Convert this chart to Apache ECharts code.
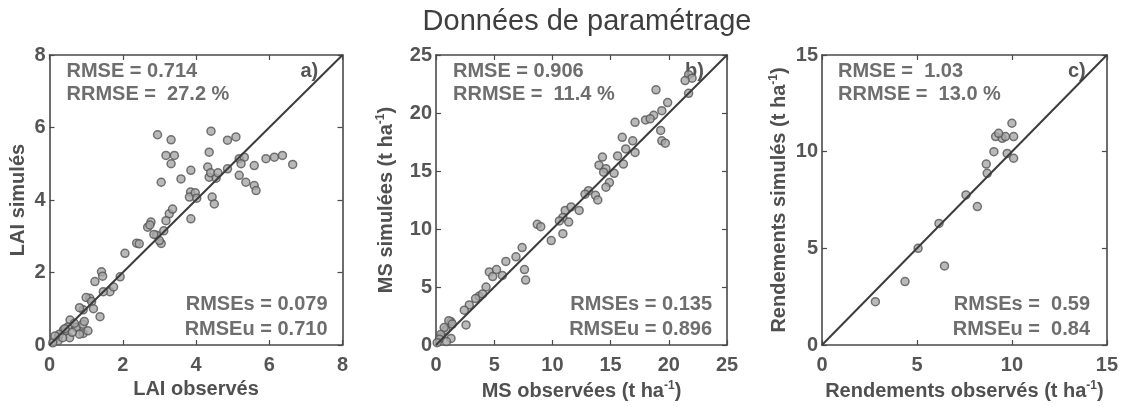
<!DOCTYPE html>
<html>
<head>
<meta charset="utf-8">
<script src="https://cdn.jsdelivr.net/npm/echarts@6/dist/echarts.min.js"></script>
<style>
  html, body { margin: 0; padding: 0; background: #fff; }
  #chart { width: 1121px; height: 407px; }
</style>
</head>
<body>
<div id="chart"></div>
<script>
// ---- Panel a) : LAI ----
const laiObs = [2.95,3.32,3.18,3.41,3.32,3.05,3.59,3.86,3.85,3.82,3.86,4.41,4.36,4.32,4.36,4.40,4.44,4.50,4.86,5.09,4.86,5.18,5.32,5.23,5.18,5.36,5.59,5.64,5.59,5.91,6.14,6.36,6.64,
  3.27,3.18,3.36,2.77,2.68,2.74,2.92,3.05,3.00,2.38,2.45,2.06,1.42,1.45,1.24,1.93,1.65,1.47,1.10,1.00,0.92,1.38,0.82,0.56,0.74,0.92,0.38,0.24,
  0.27,0.45,0.73,0.91,1.05,0.55,0.23,0.09,0.82,0.36,0.50,0.62,0.95,1.15,0.68,1.20,0.42,0.15,1.75,2.85,3.12,4.55,4.60,3.98,4.02];
const laiSim = [5.80,5.66,5.23,5.23,5.00,4.49,4.58,4.82,4.22,4.08,3.48,5.90,5.32,4.91,4.63,4.75,4.08,3.89,5.65,5.74,4.86,5.14,5.18,5.00,4.68,4.49,4.40,4.26,4.95,5.14,5.18,5.23,4.98,
  3.62,3.43,3.75,3.39,3.25,3.31,3.03,2.80,2.88,2.81,2.79,2.53,2.02,1.90,1.75,1.88,1.47,1.47,1.29,1.31,0.97,0.78,1.03,0.69,0.50,0.32,0.41,0.23,
  0.30,0.39,0.48,0.57,0.39,0.20,0.11,0.06,0.30,0.20,0.50,0.35,0.65,1.20,0.60,1.00,0.45,0.25,1.60,3.05,3.15,4.60,4.75,4.20,4.05];

// ---- Panel b) : MS (t/ha) ----
const msObs = [21.7,22.0,21.4,21.7,18.9,19.9,19.4,18.7,18.0,17.1,18.4,19.3,19.4,19.7,16.0,16.9,16.3,17.1,15.6,16.1,14.3,14.0,14.6,14.4,15.3,14.9,14.6,13.1,13.7,13.9,12.3,11.1,10.9,11.4,10.6,11.6,10.9,9.9,8.7,
  7.4,6.87,6.0,4.58,4.87,7.6,7.7,5.7,4.3,3.7,2.86,2.43,2.58,1.29,0.86,0.43,1.29,1.1,0.7,0.4,0.3,0.9,1.4,0.1,4.0,3.4,5.2,9.0,12.8];
const msSim = [23.3,23.0,22.8,21.7,22.0,20.9,20.2,19.8,19.4,19.2,19.5,18.5,17.6,17.4,17.9,17.6,16.9,16.6,16.3,15.6,16.2,15.5,15.2,14.9,14.8,14.0,13.6,13.3,12.9,12.5,11.6,11.6,11.0,10.6,10.7,11.9,9.6,9.0,10.4,
  8.4,7.6,7.2,6.3,5.9,6.5,5.6,6.0,5.0,4.2,3.45,3.0,1.73,2.0,1.3,0.7,0.57,2.1,1.5,0.9,0.5,0.3,1.8,0.2,4.4,4.0,6.5,10.2,13.0];

// ---- Panel c) : Rendements (t/ha) ----
const yieldObs = [2.81,4.37,5.06,6.16,6.45,7.58,8.18,8.70,8.65,9.05,9.14,9.49,9.66,9.30,10.00,10.09,9.75,10.09];
const yieldSim = [2.24,3.28,5.00,6.29,4.09,7.76,7.16,8.88,9.36,10.00,10.78,10.69,10.78,10.95,11.47,10.78,9.91,9.66];

// axis ranges and tick steps
const axisMax = [8, 25, 15];
const axisStep = [2, 5, 5];

// axis titles
const xNames = ['LAI observés', '{n|MS observées (t ha}{s|-1}{n|)}', '{n|Rendements observés (t ha}{s|-1}{n|)}'];
const yNames = ['LAI simulés', '{n|MS simulées (t ha}{s|-1}{n|)}', '{n|Rendements simulés (t ha}{s|-1}{n|)}'];

// statistics written in each panel
const statsTop = [
  ['RMSE = 0.714', 'RRMSE =  27.2 %'],
  ['RMSE = 0.906', 'RRMSE =  11.4 %'],
  ['RMSE =  1.03', 'RRMSE =  13.0 %']
];
const statsBottom = [
  ['RMSEs = 0.079', 'RMSEu = 0.710'],
  ['RMSEs = 0.135', 'RMSEu = 0.896'],
  ['RMSEs =  0.59', 'RMSEu =  0.84']
];
const panelTags = ['a)', 'b)', 'c)'];
const chartTitle = 'Données de paramétrage';

// ---- layout ----
const grids = [
  { left: 49.5, top: 55, width: 293, height: 290 },
  { left: 436,  top: 55, width: 291, height: 290 },
  { left: 822,  top: 55, width: 288, height: 290 }
];
const yNameGap = [21, 38, 31];
const statLeft = [17, 17, 16];
const statRight = [15, 15, 20];

const FONT = 'Liberation Sans, Arial, sans-serif';
const AX = '#4a4a4a';
const NAME_SIZE = 20;
const richName = {
  n: { fontFamily: FONT, fontWeight: 'bold', fontSize: NAME_SIZE, color: '#505050' },
  s: { fontFamily: FONT, fontWeight: 'bold', fontSize: 12, color: '#505050', padding: [0, 0, 11, 0] }
};

const pairs = [[laiObs, laiSim], [msObs, msSim], [yieldObs, yieldSim]];

const xAxes = [], yAxes = [], series = [], graphics = [];

grids.forEach((g, i) => {
  const common = {
    gridIndex: i, type: 'value', min: 0, max: axisMax[i], interval: axisStep[i],
    splitLine: { show: false },
    axisLine: { show: true, onZero: false, lineStyle: { color: AX, width: 1.6 } },
    axisTick: { show: true, inside: true, length: 5, lineStyle: { color: AX, width: 1.2 } }
  };
  // bottom / left axes with labels
  xAxes.push(Object.assign({}, common, {
    position: 'bottom',
    name: xNames[i], nameLocation: 'middle', nameGap: 32,
    nameTextStyle: { fontFamily: FONT, fontWeight: 'bold', fontSize: NAME_SIZE, color: '#505050', rich: richName },
    axisLabel: { margin: 10, fontFamily: FONT, fontWeight: 'bold', fontSize: 20, color: '#555' }
  }));
  yAxes.push(Object.assign({}, common, {
    position: 'left',
    name: yNames[i], nameLocation: 'middle', nameGap: yNameGap[i], nameRotate: 90,
    nameTextStyle: { fontFamily: FONT, fontWeight: 'bold', fontSize: NAME_SIZE, color: '#505050', rich: richName },
    axisLabel: { margin: 4, fontFamily: FONT, fontWeight: 'bold', fontSize: 20, color: '#555' }
  }));
  // top / right axes closing the box
  xAxes.push(Object.assign({}, common, { position: 'top', axisLabel: { show: false } }));
  yAxes.push(Object.assign({}, common, { position: 'right', axisLabel: { show: false } }));

  const [obs, sim] = pairs[i];
  series.push({
    type: 'scatter', xAxisIndex: 2 * i, yAxisIndex: 2 * i,
    data: obs.map((v, k) => [v, sim[k]]),
    symbol: 'circle', symbolSize: 8,
    itemStyle: { color: '#a8a8a8', borderColor: '#555', borderWidth: 1.5 },
    z: 3
  });
  // 1:1 line
  series.push({
    type: 'line', xAxisIndex: 2 * i, yAxisIndex: 2 * i,
    data: [[0, 0], [axisMax[i], axisMax[i]]],
    symbol: 'none', lineStyle: { color: '#3c3c3c', width: 2 },
    z: 4, silent: true
  });

  const statStyle = { fontFamily: FONT, fontWeight: 'bold', fontSize: 20, fill: '#6e6e6e' };
  statsTop[i].forEach((t, k) => {
    graphics.push({ type: 'text', left: g.left + statLeft[i], top: g.top + 6 + k * 23,
      style: Object.assign({ text: t }, statStyle) });
  });
  statsBottom[i].forEach((t, k) => {
    graphics.push({ type: 'text', right: 1121 - (g.left + g.width - statRight[i]), top: g.top + 239 + k * 25,
      style: Object.assign({ text: t, textAlign: 'right' }, statStyle) });
  });
  graphics.push({ type: 'text', left: g.left + g.width - 42, top: g.top + 6,
    style: { text: panelTags[i], fontFamily: FONT, fontWeight: 'bold', fontSize: 20, fill: '#555' } });
});

const chart = echarts.init(document.getElementById('chart'), null, { renderer: 'canvas' });
chart.setOption({
  animation: false,
  backgroundColor: '#fff',
  title: {
    text: chartTitle, left: 582, top: 2, textAlign: 'center',
    textStyle: { fontFamily: FONT, fontWeight: 'normal', fontSize: 29, color: '#3e3e3e' }
  },
  grid: grids,
  xAxis: xAxes,
  yAxis: yAxes,
  series: series,
  graphic: graphics
});
</script>
</body>
</html>
